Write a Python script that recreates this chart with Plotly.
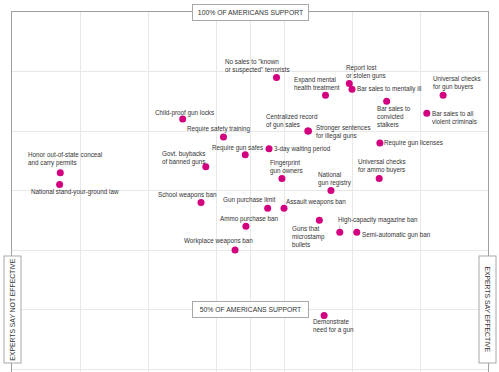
import plotly.graph_objects as go

# ---- data ----
policies = [
    "Child-proof gun locks",
    'No sales to "known<br>or suspected" terrorists',
    "Expand mental<br>health treatment",
    "Report lost<br>or stolen guns",
    "Bar sales to mentally ill",
    "Universal checks<br>for gun buyers",
    "Bar sales to<br>convicted<br>stalkers",
    "Bar sales to all<br>violent criminals",
    "Centralized record<br>of gun sales",
    "Stronger sentences<br>for illegal guns",
    "Require safety training",
    "Require gun safes",
    "Govt. buybacks<br>of banned guns",
    "Honor out-of-state conceal<br>and carry permits",
    "National stand-your-ground law",
    "School weapons ban",
    "Gun purchase limit",
    "Assault weapons ban",
    "Ammo purchase ban",
    "Workplace weapons ban",
    "3-day waiting period",
    "Require gun licenses",
    "Fingerprint<br>gun owners",
    "Universal checks<br>for ammo buyers",
    "National<br>gun registry",
    "Guns that<br>microstamp<br>bullets",
    "High-capacity magazine ban",
    "Semi-automatic gun ban",
    "Demonstrate<br>need for a gun",
]
expert_effectiveness = [2.51, 3.89, 4.61, 4.96, 5.00, 6.34, 5.51, 6.10, 4.35, 4.36,
                        3.11, 3.43, 2.85, 0.71, 0.70, 2.78, 3.76, 4.00, 3.44, 3.28,
                        3.78, 5.41, 3.97, 5.40, 4.69, 4.52, 4.82, 5.07, 4.59]
public_support = [82, 89, 86, 88, 87, 86, 85, 83, 80, 80,
                  79, 76, 74, 73, 71, 68, 67, 67, 64, 60,
                  77, 78, 72, 72, 70, 65, 63, 63, 49]

x_ticks = [1, 2, 3, 3.5, 4, 5, 6]
y_ticks = [40, 50, 60, 70, 80, 90]

# label placement (screen px offsets of the label's left edge / vertical centre from its dot)
label_offsets = [
    (-28, -6.3), (-51.7, -11.7), (-31.7, -11.7), (-3.3, -11.3), (4.7, 0),
    (-10.3, -12.1), (-10, 15.3), (5, 4), (-42, -9.6), (8, 0.7),
    (-36.6, -8), (-33.3, -6.7), (-43.7, -9), (-32.3, -13.3), (-28.3, 7.7),
    (-42.7, -7), (-44.4, -8), (2.3, -6), (-26, -7.7), (-51.4, -9),
    (5, 0), (4.3, 0), (-12.4, -11.3), (-21.7, -12.7), (-13.4, -12),
    (-27, 16.3), (-2, -12), (5, 2.7), (-11.3, 10.6),
]

DOT = "#d2007f"
TXT = "#333333"
FONT = "Liberation Sans, Arial, sans-serif"

fig = go.Figure()
fig.add_trace(go.Scatter(
    x=expert_effectiveness, y=public_support, mode="markers",
    marker=dict(color=DOT, size=7, line=dict(width=0)),
    hovertext=[p.replace("<br>", " ") for p in policies], hoverinfo="text",
    showlegend=False,
))

annotations = []
for name, xv, yv, (dx, dy) in zip(policies, expert_effectiveness, public_support, label_offsets):
    annotations.append(dict(
        x=xv, y=yv, xref="x", yref="y", text=name, showarrow=False,
        xanchor="left", yanchor="middle", align="left",
        xshift=dx, yshift=-dy, borderpad=0, borderwidth=0,
        font=dict(family=FONT, size=6.3, color=TXT),
    ))

# small leader line for the high-capacity magazine label
hc = policies.index("High-capacity magazine ban")
annotations.append(dict(
    x=expert_effectiveness[hc], y=public_support[hc], xref="x", yref="y",
    text="", showarrow=True, ax=0, ay=-8, arrowhead=0, arrowwidth=0.7,
    arrowcolor="#999999", standoff=3.5,
))

box = dict(showarrow=False, bgcolor="white", bordercolor="#a8a8a8", borderwidth=1,
           borderpad=1, font=dict(family=FONT, size=6.8, color=TXT))
annotations += [
    dict(x=0.5, y=100, xref="paper", yref="y", text="100% OF AMERICANS SUPPORT",
         width=113, height=13, xanchor="center", yanchor="middle", **box),
    dict(x=0.5, y=50, xref="paper", yref="y", text="50% OF AMERICANS SUPPORT",
         width=113, height=13, xanchor="center", yanchor="middle", **box),
    dict(x=0, y=50, xref="paper", yref="y", text="EXPERTS SAY NOT EFFECTIVE",
         textangle=-90, width=104, height=14, xanchor="center", yanchor="middle", **box),
    dict(x=1, y=50, xref="paper", yref="y", text="EXPERTS SAY EFFECTIVE",
         textangle=90, width=104, height=14, xanchor="center", yanchor="middle", **box),
]

fig.update_layout(
    width=499, height=372,
    margin=dict(l=12, r=11, t=12, b=0, pad=0),
    paper_bgcolor="white", plot_bgcolor="white",
    annotations=annotations,
    hovermode="closest",
    xaxis=dict(range=[0, 7], tickvals=x_ticks, showticklabels=False, ticks="",
               showgrid=True, gridcolor="#e8e8e8", gridwidth=1, zeroline=False,
               showline=True, linecolor="#a0a0a0", linewidth=1, side="top", mirror=False,
               fixedrange=True),
    yaxis=dict(range=[100 - 360 / 5.95, 100], tickvals=y_ticks, showticklabels=False, ticks="",
               showgrid=True, gridcolor="#e8e8e8", gridwidth=1, zeroline=False,
               showline=True, linecolor="#a0a0a0", linewidth=1, mirror=True,
               fixedrange=True),
)

fig.write_html(
    "out.html",
    config={"displayModeBar": False},
    post_script="document.body.style.margin='0';document.body.style.overflow='hidden';",
)
